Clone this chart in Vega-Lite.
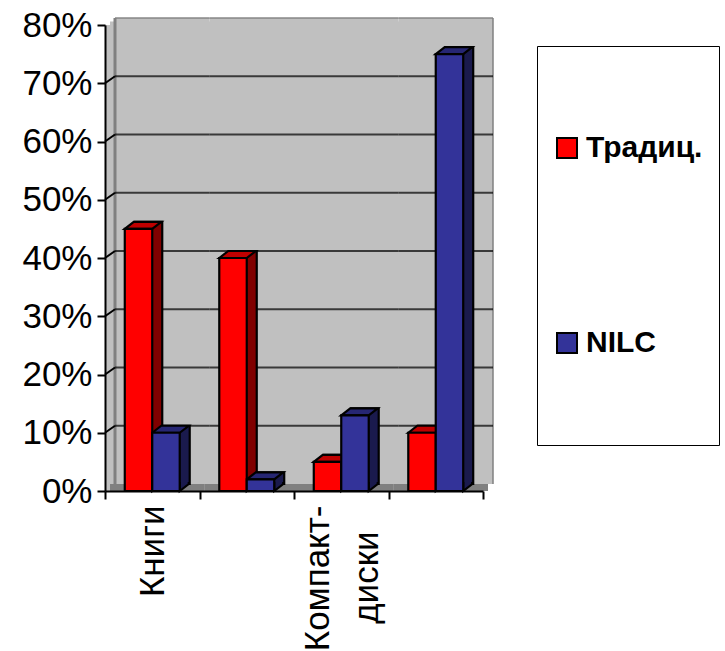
{"$schema":"https://vega.github.io/schema/vega-lite/v6.json","width":378,"height":466,"autosize":"none","padding":{"left":105,"top":25,"right":242,"bottom":160},"background":"white","config":{"view":{"stroke":null},"font":"Liberation Sans"},
"datasets":{"cats":[{"cat":"Книги","lines":[0.1,0.2,0.3,0.4,0.5,0.6,0.7]},{"cat":" ","lines":[0.1,0.2,0.3,0.4,0.5,0.6,0.7]},{"cat":"Компакт-|диски\u2800","lines":[0.1,0.2,0.3,0.4,0.5,0.6,0.7]},{"cat":"  ","lines":[0.1,0.2,0.3,0.4,0.5,0.6,0.7]}],
"bars":[{"cat":"Книги","series":"Традиц.","value":0.45},{"cat":"Книги","series":"NILC","value":0.1},{"cat":" ","series":"Традиц.","value":0.4},{"cat":" ","series":"NILC","value":0.02},{"cat":"Компакт-|диски\u2800","series":"Традиц.","value":0.05},{"cat":"Компакт-|диски\u2800","series":"NILC","value":0.13},{"cat":"  ","series":"Традиц.","value":0.1},{"cat":"  ","series":"NILC","value":0.75}]},
"encoding":{"x":{"field":"cat","type":"nominal","sort":null,"title":null,"scale":{"domain":["Книги"," ","Компакт-|диски\u2800","  "],"paddingInner":0,"paddingOuter":0},"axis":{"tickBand":"extent","labelAngle":-90,"labelAlign":"right","labelBaseline":"middle","labelFontSize":35,"labelColor":"black","labelPadding":6,"labelLimit":0,"labelLineHeight":49,"labelExpr":"split(datum.label,'|')","labelOffset":{"condition":{"test":"indexof(datum.label,'|')>=0","value":-24},"value":0},"tickSize":8,"tickWidth":2,"tickColor":"black","domainColor":"black","domainWidth":2,"zindex":1}},
"y":{"type":"quantitative","title":null,"scale":{"domain":[0,0.8],"nice":false},"axis":{"format":".0%","values":[0,0.1,0.2,0.3,0.4,0.5,0.6,0.7,0.8],"grid":false,"labelFontSize":35,"labelColor":"black","labelPadding":5,"tickSize":8,"tickWidth":2,"tickColor":"black","domainColor":"black","domainWidth":2,"zindex":1}}},
"layer":[
{"data":{"name":"cats"},"mark":{"type":"rect","fill":"#c0c0c0"},"encoding":{"y":{"datum":0},"y2":{"datum":0.8}}},
{"data":{"name":"cats"},"mark":{"type":"rect","fill":"#c0c0c0","xOffset":5,"x2Offset":5,"yOffset":-3.5,"y2Offset":-3.5},"encoding":{"y":{"datum":0},"y2":{"datum":0.8}}},
{"data":{"name":"cats"},"mark":{"type":"rect","fill":"#c0c0c0","xOffset":10,"x2Offset":10,"yOffset":-7,"y2Offset":-7},"encoding":{"y":{"datum":0},"y2":{"datum":0.8}}},
{"data":{"name":"cats"},"mark":{"type":"rect","fill":"#808080","xOffset":5,"x2Offset":5},"encoding":{"y":{"datum":0},"y2":{"datum":0.012}}},
{"data":{"name":"cats"},"mark":{"type":"tick","size":94.5,"thickness":2,"color":"#808080","xOffset":10,"yOffset":-7},"encoding":{"y":{"datum":0.8}}},
{"data":{"name":"cats"},"transform":[{"filter":"datum.cat=='Книги'"}],"mark":{"type":"rule","color":"#808080","strokeWidth":3,"xOffset":10,"yOffset":-7,"y2Offset":-7},"encoding":{"x":{"field":"cat","type":"nominal","bandPosition":0},"y":{"datum":0},"y2":{"datum":0.8}}},
{"data":{"name":"cats"},"transform":[{"filter":"datum.cat=='  '"}],"mark":{"type":"rule","color":"#808080","strokeWidth":1.5,"xOffset":10,"yOffset":-7,"y2Offset":-7},"encoding":{"x":{"field":"cat","type":"nominal","bandPosition":1},"y":{"datum":0},"y2":{"datum":0.8}}},
{"data":{"name":"cats"},"transform":[{"flatten":["lines"]}],"mark":{"type":"tick","size":94.5,"thickness":2,"color":"black","xOffset":10,"yOffset":-7},"encoding":{"y":{"field":"lines","type":"quantitative"}}},
{"data":{"name":"cats"},"transform":[{"filter":"datum.cat=='Книги'"},{"flatten":["lines"]}],"mark":{"type":"point","shape":"M0,0L10,-7","size":4,"filled":false,"stroke":"black","strokeWidth":2,"opacity":1},"encoding":{"x":{"field":"cat","type":"nominal","bandPosition":0},"y":{"field":"lines","type":"quantitative"}}},
{"data":{"name":"bars"},"transform":[{"filter":"datum.series=='Традиц.'"}],"mark":{"type":"rect","width":27.47,"fill":"#800000","stroke":"black","strokeWidth":2.2,"xOffset":-3.74,"yOffset":-7,"y2Offset":-7},"encoding":{"y":{"field":"value","type":"quantitative"},"y2":{"datum":0}}},
{"data":{"name":"bars"},"transform":[{"filter":"datum.series=='NILC'"}],"mark":{"type":"rect","width":27.47,"fill":"#1a1a4d","stroke":"black","strokeWidth":2.2,"xOffset":23.73,"yOffset":-7,"y2Offset":-7},"encoding":{"y":{"field":"value","type":"quantitative"},"y2":{"datum":0}}},
{"data":{"name":"bars"},"mark":{"type":"point","shape":"M22.75,-9L22.75,-7L13.75,0L13.75,-9","size":4,"filled":true,"stroke":"black","strokeWidth":2.2,"opacity":1},"encoding":{"xOffset":{"field":"series","scale":{"domain":["Традиц.","NILC"],"paddingOuter":0.72,"paddingInner":0}},"y":{"datum":0},"fill":{"condition":{"test":"datum.series=='NILC'","value":"#1a1a4d"},"value":"#800000"}}},
{"data":{"name":"bars"},"mark":{"type":"point","shape":"M-13.75,0L-4.75,-7L22.75,-7L13.75,0Z","size":4,"filled":true,"stroke":"black","strokeWidth":2.2,"opacity":1},"encoding":{"xOffset":{"field":"series"},"y":{"field":"value","type":"quantitative"},"fill":{"condition":{"test":"datum.series=='NILC'","value":"#262673"},"value":"#bf0000"}}},
{"data":{"name":"bars"},"mark":{"type":"bar","stroke":"black","strokeWidth":2.2},"encoding":{"xOffset":{"field":"series"},"y":{"field":"value","type":"quantitative"},"fill":{"field":"series","type":"nominal","scale":{"domain":["Традиц.","NILC"],"range":["#ff0000","#333399"]},"legend":{"title":null,"orient":"none","legendX":432,"legendY":21,"columns":1,"clipHeight":172,"rowPadding":23,"padding":16,"strokeColor":"black","fillColor":"white","symbolType":"square","symbolSize":400,"symbolStrokeColor":"black","symbolStrokeWidth":2,"symbolOffset":-1,"labelOffset":4,"labelFontSize":30,"labelFontWeight":"bold","labelColor":"black","labelLimit":0}}}}
]}
